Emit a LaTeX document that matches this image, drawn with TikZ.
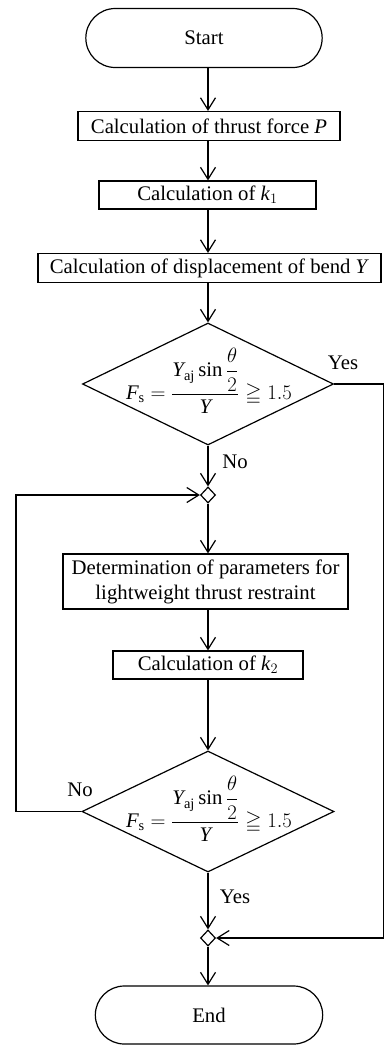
\documentclass[tikz,border=0pt]{standalone}
\usepackage{amsmath,amssymb}
\usepackage{fontspec}
\setmainfont{Liberation Serif}
\usetikzlibrary{shapes.geometric,shapes.misc,arrows.meta}
\begin{document}
\begin{tikzpicture}[x=1pt,y=-1pt,
  font=\fontsize{20.74}{25}\selectfont,
  line width=1.2pt,
  box/.style={draw, rectangle, inner sep=1pt, minimum height=29pt},
  term/.style={draw, rounded rectangle, minimum height=59pt},
  dec/.style={draw, diamond, inner sep=0pt},
  junc/.style={draw, diamond, inner sep=0pt, minimum width=15pt, minimum height=16pt},
  formula/.style={inner sep=0pt},
  lab/.style={inner sep=0pt},
  arr/.style={-{Straight Barb[length=12pt,width=15pt]}}]
\useasboundingbox (0,0) rectangle (385,1045);

\node[term, minimum width=243pt] (start) at (204,38) {Start};
\node[box, minimum width=262pt] (p) at (209,126) {Calculation of thrust force \textit{P}};
\node[box, minimum width=217pt, minimum height=28pt] (k1) at (207.5,195) {Calculation of \textit{k}$_1$};
\node[box, minimum width=343pt] (y) at (209.5,268) {Calculation of displacement of bend \textit{Y}};
\node[dec, minimum width=251pt, minimum height=122pt] (d1) at (208,384) {};
\node[formula] (f1) at (209,381) {$\textit{F}_{\mathrm{s}}=\dfrac{\textit{Y}_{\mathrm{aj}}\sin\dfrac{\theta}{2}}{\textit{Y}}\geqq 1.5$};
\node[junc] (j1) at (208,495) {};
\node[box, minimum width=285pt, minimum height=55pt, align=center] (par) at (205.5,581.5) {Determination of parameters for\\lightweight thrust restraint};
\node[box, minimum width=190pt, minimum height=28pt] (k2) at (208,665) {Calculation of \textit{k}$_2$};
\node[dec, minimum width=252pt, minimum height=121pt] (d2) at (208,811.5) {};
\node[formula] (f2) at (209,809) {$\textit{F}_{\mathrm{s}}=\dfrac{\textit{Y}_{\mathrm{aj}}\sin\dfrac{\theta}{2}}{\textit{Y}}\geqq 1.5$};
\node[junc] (j2) at (208,938) {};
\node[term, minimum width=234pt, minimum height=58pt] (end) at (209,1015) {End};

\node[lab] (yes1) at (343,363) {Yes};
\node[lab] (no1) at (235,462) {No};
\node[lab] (no2) at (80,790) {No};
\node[lab] (yes2) at (235,897) {Yes};

\coordinate (rx) at (383.5,0);
\coordinate (lx) at (16,0);

\draw[arr] (start.south -| d1.north) -- (d1.north |- p.north);
\draw[arr] (p.south -| d1.north) -- (d1.north |- k1.north);
\draw[arr] (k1.south -| d1.north) -- (d1.north |- y.north);
\draw[arr] (y.south -| d1.north) -- (d1.north);
\draw[arr] (d1.south) -- (j1.north);
\draw[arr] (j1.south) -- (j1.south |- par.north);
\draw[arr] (par.south -| k2.north) -- (k2.north);
\draw[arr] (k2.south) -- (d2.north);
\draw[arr] (d2.south) -- (j2.north);
\draw[arr] (j2.south) -- (j2.south |- end.north);
\draw[arr] (d1.east) -- (d1.east -| rx) |- (j2.east);
\draw[arr] (d2.west) -- (d2.west -| lx) |- (j1.west);
\end{tikzpicture}
\end{document}
